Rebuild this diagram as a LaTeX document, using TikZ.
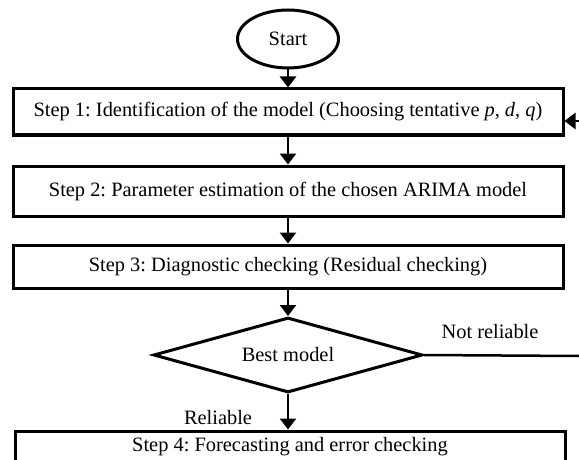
\documentclass[tikz,border=0pt]{standalone}
\usepackage{fontspec}
\setmainfont{Liberation Serif}
\usetikzlibrary{shapes.geometric,arrows.meta}
\begin{document}
\frenchspacing
\begin{tikzpicture}[x=1pt,y=-1pt,
  every node/.style={font=\fontsize{20.4}{24}\selectfont},
  stepbox/.style={draw,line width=3pt,minimum width=550pt,inner sep=0pt},
  startnode/.style={draw,ellipse,line width=3pt,minimum width=101pt,minimum height=58pt,inner sep=0pt},
  decide/.style={draw,diamond,line width=3pt,minimum width=269pt,minimum height=75pt,inner sep=0pt,aspect=3.6},
  flow/.style={line width=2.5pt,-{Triangle[length=11pt,width=16pt]}},
  plain/.style={line width=2.5pt},
  lbl/.style={inner sep=0pt}]
\useasboundingbox (0,0) rectangle (579,460);
\node[startnode] (st) at (288,39) {Start};
\node[stepbox,minimum height=46pt] (s1) at (288,112) {Step 1: Identification of the model (Choosing tentative \textit{p}, \textit{d}, \textit{q})};
\node[stepbox,minimum height=50pt] (s2) at (288,191) {Step 2: Parameter estimation of the chosen ARIMA model};
\node[stepbox,minimum height=43pt] (s3) at (288,266.5) {Step 3: Diagnostic checking (Residual checking)};
\node[decide] (d) at (288,355) {Best model};
\node[stepbox,minimum height=32pt] (s4) at (290,447) {Step 4: Forecasting and error checking};
\node[lbl] (nr) at (490,332) {Not reliable};
\node[lbl] (rl) at (218,418) {Reliable};
\coordinate (fbr) at (579,356);
\coordinate (fbt) at (579,121);
\draw[flow] (st) -- (s1);
\draw[flow] (s1) -- (s2);
\draw[flow] (s2) -- (s3);
\draw[flow] (s3) -- (d);
\draw[flow] (d) -- (d.south |- s4.north);
\draw[plain] (d.east) -- (fbr);
\draw[flow] (fbt) -- (fbt -| s1.east);
\end{tikzpicture}
\end{document}
